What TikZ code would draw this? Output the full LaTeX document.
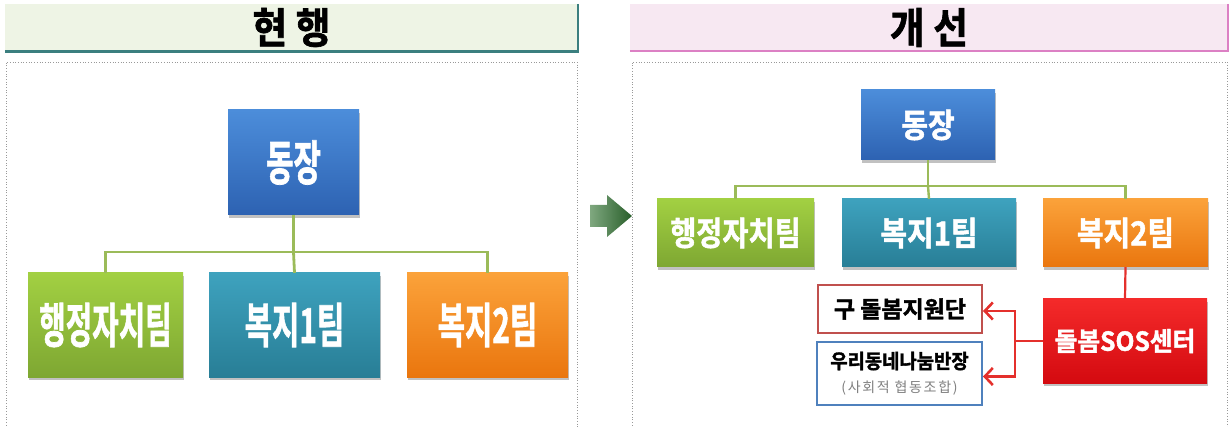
\documentclass[tikz,border=0pt]{standalone}
\usepackage{fontspec}
\usepackage{graphicx}
\newfontfamily\kr{Noto Sans CJK KR}[BoldFont={Noto Sans CJK KR Bold}]
\newfontfamily\krnegra{Noto Sans CJK KR Bold}[FakeBold=1.6]
\usetikzlibrary{positioning,shadows,arrows.meta,calc}

\definecolor{azulA}{HTML}{4C8DDA}
\definecolor{azulB}{HTML}{2D62B2}
\definecolor{verdeA}{HTML}{A2D042}
\definecolor{verdeB}{HTML}{7EA732}
\definecolor{tealA}{HTML}{3EA2BE}
\definecolor{tealB}{HTML}{287E96}
\definecolor{naranjaA}{HTML}{FBA23A}
\definecolor{naranjaB}{HTML}{EA760E}
\definecolor{rojoA}{HTML}{F42A2A}
\definecolor{rojoB}{HTML}{D40A10}
\definecolor{linea}{HTML}{9BBB59}
\definecolor{flecharoja}{HTML}{E4302C}
\definecolor{bordegu}{HTML}{C0504D}
\definecolor{bordeuri}{HTML}{4F81BD}
\definecolor{fondoactual}{HTML}{EEF4E5}
\definecolor{bordeactual}{HTML}{3B7F7F}
\definecolor{fondomejora}{HTML}{F7E8F2}
\definecolor{bordemejora}{HTML}{DC80C4}
\definecolor{flechaA}{HTML}{7FA87F}
\definecolor{flechaB}{HTML}{285E2A}

% texto estrecho
\newcommand{\estrecho}[2]{\scalebox{#1}[1]{#2}}

\tikzset{
  caja/.style={rectangle, inner sep=0pt, minimum width=#1, text=white,
    drop shadow={shadow xshift=1pt, shadow yshift=-3pt, opacity=0.35, fill=black!70}},
  cajaL/.style={caja=#1, minimum height=104pt, font=\krnegra\fontsize{48}{50}\selectfont},
  cajaR/.style={caja=#1, minimum height=68pt, font=\krnegra\fontsize{33}{35}\selectfont},
  azul/.style={top color=azulA, bottom color=azulB},
  verde/.style={top color=verdeA, bottom color=verdeB},
  teal/.style={top color=tealA, bottom color=tealB},
  naranja/.style={top color=naranjaA, bottom color=naranjaB},
  rojo/.style={top color=rojoA, bottom color=rojoB},
  conector/.style={linea, line width=2.8pt},
  barra/.style={rectangle, inner sep=0pt, minimum height=47pt, font=\krnegra\fontsize{42}{44}\selectfont},
  marco/.style={gray!80, dotted, line width=0.7pt},
  flechar/.style={flecharoja, line width=2.6pt, -{Straight Barb[length=8pt,width=17pt]}},
}

\begin{document}
\begin{tikzpicture}[x=1pt, y=-1pt]
    \useasboundingbox (0,0) rectangle (1231,427);

    % Dibuja las barras de titulo
    \node[barra, fill=fondoactual, minimum width=573pt] (tactual) at (291.5,27.5) {\estrecho{0.9}{현 행}};
    \draw[bordeactual, line width=3pt] (tactual.south west) -- (tactual.south east);
    \draw[bordeactual, line width=2pt] (tactual.north east) -- ([yshift=-1.5pt]tactual.south east);
    \node[barra, fill=fondomejora, minimum width=598pt] (tmejora) at (929,27.5) {\estrecho{0.9}{개 선}};
    \draw[bordemejora, line width=2pt] (tmejora.south west) -- (tmejora.south east);
    \draw[bordemejora, line width=1.5pt] (tmejora.north east) -- ([yshift=-1pt]tmejora.south east);

    % Dibuja los marcos punteados
    \draw[marco] (6,428) -- (6,62) -- (577,62) -- (577,428);
    \draw[marco] (632,428) -- (632,62) -- (1227,62) -- (1227,428);

    % Dibuja la flecha verde
    \shade[left color=flechaA, right color=flechaB] (590,205) -- (607,205) -- (607,195) -- (632,216)
        -- (607,237) -- (607,227) -- (590,227) -- cycle;

    % Organigrama actual
    \node[caja=131pt, minimum height=105pt, font=\krnegra\fontsize{48}{50}\selectfont, azul] (ljefe) at (293.5,162.5) {\estrecho{0.62}{동장}};
    \node[cajaL=155pt, verde] (ladmin) at (105.5,325) {\estrecho{0.6}{행정자치팀}};
    \node[cajaL=171pt, teal] (lbien1) at (294.5,325) {\estrecho{0.62}{복지1팀}};
    \node[cajaL=161pt, naranja] (lbien2) at (487.5,325) {\estrecho{0.62}{복지2팀}};
    \draw[conector] (ljefe.south) -- (ljefe.south |- 0,252) coordinate (lnudo);
    \draw[conector] (lnudo) -| (ladmin.north);
    \draw[conector] (lnudo) -- (lbien1.north);
    \draw[conector] (lnudo) -| (lbien2.north);

    % Organigrama mejorado
    \node[caja=134pt, minimum height=70pt, font=\krnegra\fontsize{33}{35}\selectfont, azul] (rjefe) at (928,125) {\estrecho{0.88}{동장}};
    \node[cajaR=157pt, verde] (radmin) at (735.5,233) {\estrecho{0.86}{행정자치팀}};
    \node[cajaR=174pt, teal] (rbien1) at (929,233) {\estrecho{0.88}{복지1팀}};
    \node[cajaR=165pt, naranja] (rbien2) at (1125.5,233) {\estrecho{0.88}{복지2팀}};
    \draw[conector, line width=2.4pt] (rjefe.south) -- (rjefe.south |- 0,186) coordinate (rnudo);
    \draw[conector, line width=2.4pt] (rnudo) -| (radmin.north);
    \draw[conector, line width=2.4pt] (rnudo) -- (rbien1.north);
    \draw[conector, line width=2.4pt] (rnudo) -| (rbien2.north);

    % Centro SOS y equipos
    \node[caja=164pt, minimum height=84pt, font=\krnegra\fontsize{26}{28}\selectfont, rojo] (sos) at (1125,341) {\estrecho{0.95}{돌봄SOS센터}};
    \draw[flecharoja, line width=2.2pt] (rbien2.south) -- (sos.north);
    \node[rectangle, draw=bordegu, line width=2pt, fill=white, minimum width=164pt, minimum height=48pt,
        font=\krnegra\fontsize{23}{25}\selectfont] (gu) at (900,309) {구 돌봄지원단};
    \node[rectangle, draw=bordeuri, line width=2pt, fill=white, minimum width=165pt, minimum height=63pt,
        inner sep=0pt, align=center, font=\krnegra\fontsize{20}{23}\selectfont] (uri) at (899.5,373.5)
        {\estrecho{0.94}{우리동네나눔반장}\\[1pt]{\kr\fontsize{14}{16}\selectfont\color{gray}\addfontfeature{LetterSpace=12}(사회적 협동조합)}};
    \coordinate (horca) at ($(sos.west)+(-28pt,0)$);
    \draw[flecharoja, line width=2.6pt] (sos.west) -- (horca);
    \draw[flechar] (horca) |- ([yshift=-2pt]gu.east);
    \draw[flechar] (horca) |- ([yshift=-3pt]uri.east);
\end{tikzpicture}
\end{document}
